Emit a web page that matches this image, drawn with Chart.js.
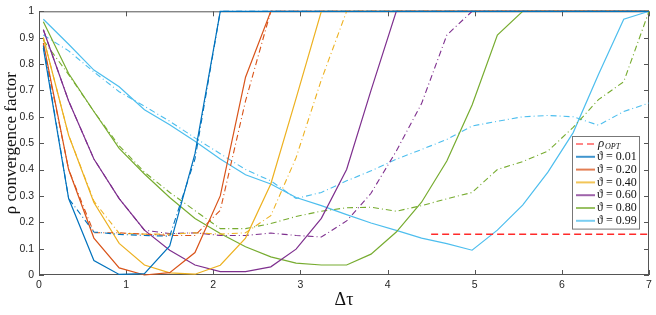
<!DOCTYPE html>
<html lang="en">
<head>
  <meta charset="UTF-8">
  <title>Convergence factor vs delta tau</title>
  <script src="https://cdn.jsdelivr.net/npm/chart.js"></script>
  <style>
    html, body { margin: 0; padding: 0; background: #fff; }
    #wrap { width: 656px; height: 315px; }
  </style>
</head>
<body>
  <div id="wrap"><canvas id="rhoChart" width="656" height="315"></canvas></div>

  <script>
    // sample points along delta tau
    const xs = [0.05, 0.34, 0.63, 0.92, 1.21, 1.50, 1.79, 2.08, 2.37, 2.66, 2.95, 3.24, 3.53,
                3.81, 4.10, 4.39, 4.68, 4.97, 5.26, 5.55, 5.84, 6.13, 6.42, 6.71, 7.00];

    const thetas = ['0.01', '0.20', '0.40', '0.60', '0.80', '0.99'];

    // solid curves
    const s001 = [0.86, 0.29, 0.055, 0.002, 0.005, 0.11, 0.46, 1, 1, 1, 1, 1, 1, 1, 1, 1, 1, 1, 1, 1, 1, 1, 1, 1, 1];
    const s020 = [0.88, 0.40, 0.14, 0.027, 0.0, 0.009, 0.085, 0.30, 0.75, 1, 1, 1, 1, 1, 1, 1, 1, 1, 1, 1, 1, 1, 1, 1, 1];
    const s040 = [0.90, 0.53, 0.275, 0.12, 0.038, 0.008, 0.003, 0.037, 0.14, 0.345, 0.67, 1, 1, 1, 1, 1, 1, 1, 1, 1, 1, 1, 1, 1, 1];
    const s060 = [0.93, 0.66, 0.44, 0.29, 0.17, 0.094, 0.038, 0.013, 0.013, 0.031, 0.098, 0.215, 0.40, 0.70, 1, 1, 1, 1, 1, 1, 1, 1, 1, 1, 1];
    const s080 = [0.96, 0.764, 0.62, 0.48, 0.383, 0.294, 0.214, 0.157, 0.107, 0.069, 0.045, 0.038, 0.038, 0.079, 0.163, 0.276, 0.432, 0.645, 0.91, 1, 1, 1, 1, 1, 1];
    const s099 = [0.97, 0.875, 0.777, 0.714, 0.627, 0.57, 0.507, 0.44, 0.38, 0.345, 0.294, 0.263, 0.229, 0.197, 0.169, 0.14, 0.119, 0.094, 0.17, 0.265, 0.39, 0.54, 0.76, 0.97, 1];

    // dash-dot curves
    const d001 = [0.87, 0.29, 0.163, 0.154, 0.15, 0.147, 0.44, 1, 1, 1, 1, 1, 1, 1, 1, 1, 1, 1, 1, 1, 1, 1, 1, 1, 1];
    const d020 = [0.87, 0.40, 0.16, 0.16, 0.155, 0.15, 0.15, 0.245, 0.66, 1, 1, 1, 1, 1, 1, 1, 1, 1, 1, 1, 1, 1, 1, 1, 1];
    const d040 = [0.90, 0.53, 0.28, 0.158, 0.155, 0.155, 0.16, 0.155, 0.16, 0.225, 0.445, 0.74, 1, 1, 1, 1, 1, 1, 1, 1, 1, 1, 1, 1, 1];
    const d060 = [0.93, 0.66, 0.44, 0.29, 0.17, 0.157, 0.16, 0.15, 0.15, 0.159, 0.15, 0.144, 0.205, 0.31, 0.47, 0.65, 0.91, 1, 1, 1, 1, 1, 1, 1, 1];
    const d080 = [0.89, 0.76, 0.62, 0.49, 0.39, 0.313, 0.244, 0.176, 0.176, 0.195, 0.222, 0.242, 0.255, 0.257, 0.242, 0.263, 0.289, 0.313, 0.40, 0.43, 0.47, 0.56, 0.665, 0.733, 1];
    const d099 = [0.91, 0.85, 0.77, 0.695, 0.64, 0.583, 0.52, 0.46, 0.40, 0.357, 0.29, 0.313, 0.357, 0.395, 0.439, 0.476, 0.514, 0.565, 0.583, 0.60, 0.605, 0.60, 0.568, 0.62, 0.652];

    // optimal rho reference line
    const rhoOptX = [4.5, 7];
    const rhoOpt = 0.155;

    const xTicks = ['0', '1', '2', '3', '4', '5', '6', '7'];
    const yTicks = ['0', '0.1', '0.2', '0.3', '0.4', '0.5', '0.6', '0.7', '0.8', '0.9', '1'];

    const solids = [s001, s020, s040, s060, s080, s099];
    const dashes = [d001, d020, d040, d060, d080, d099];
    const colors = ['#0072BD', '#D95319', '#EDB120', '#7E2F8E', '#77AC30', '#4DBEEE'];

    const toPts = (ys) => xs.map((x, k) => ({ x: x, y: ys[k] }));

    const datasets = [{
      label: 'rhoOPT',
      data: rhoOptX.map(x => ({ x: x, y: rhoOpt })),
      borderColor: '#FF2A2A',
      borderWidth: 1.5,
      borderDash: [7, 4],
      pointRadius: 0,
      clip: false
    }];
    thetas.forEach((t, i) => {
      datasets.push({
        label: '\u03D1 = ' + t,
        data: toPts(solids[i]),
        borderColor: colors[i],
        borderWidth: 1.2,
        pointRadius: 0,
        tension: 0,
        clip: false
      });
      datasets.push({
        label: '',
        data: toPts(dashes[i]),
        borderColor: colors[i],
        borderWidth: 1.1,
        borderDash: [6, 3, 1, 3],
        pointRadius: 0,
        tension: 0,
        clip: false
      });
    });

    const serif = '"Liberation Serif", "DejaVu Serif", serif';

    // box + inward ticks, drawn under the lines like matlab
    const boxPlugin = {
      id: 'box',
      beforeDatasetsDraw(chart) {
        const { ctx, chartArea: a, scales } = chart;
        ctx.save();
        ctx.strokeStyle = '#555';
        ctx.lineWidth = 1;
        ctx.strokeRect(a.left + 0.5, a.top + 0.5, a.right - a.left - 1, a.bottom - a.top - 1);
        ctx.beginPath();
        xTicks.forEach((_, i) => {
          const px = Math.round(scales.x.getPixelForValue(i)) + 0.5;
          ctx.moveTo(px, a.bottom); ctx.lineTo(px, a.bottom - 5);
          ctx.moveTo(px, a.top); ctx.lineTo(px, a.top + 5);
        });
        yTicks.forEach((_, i) => {
          const py = Math.round(scales.y.getPixelForValue(i / 10)) + 0.5;
          ctx.moveTo(a.left, py); ctx.lineTo(a.left + 5, py);
          ctx.moveTo(a.right, py); ctx.lineTo(a.right - 5, py);
        });
        ctx.stroke();
        ctx.restore();
      }
    };

    const legendPlugin = {
      id: 'boxLegend',
      afterDraw(chart) {
        const ctx = chart.ctx;
        const items = chart.data.datasets.filter(d => d.label);
        const x0 = 572, y0 = 136, w = 67, rowH = 12.8;
        const h = items.length * rowH + 3;
        ctx.save();
        ctx.fillStyle = '#fff';
        ctx.fillRect(x0, y0, w, h);
        ctx.strokeStyle = '#777';
        ctx.lineWidth = 1;
        ctx.strokeRect(x0 + 0.5, y0 + 0.5, w, h);
        items.forEach((d, i) => {
          const cy = y0 + 8 + i * rowH;
          ctx.save();
          ctx.globalAlpha = 0.75;
          ctx.strokeStyle = d.borderColor;
          ctx.lineWidth = d.label === 'rhoOPT' ? 1.5 : 2;
          ctx.setLineDash(d.label === 'rhoOPT' ? d.borderDash : []);
          ctx.beginPath();
          ctx.moveTo(x0 + 4, cy);
          ctx.lineTo(x0 + 23, cy);
          ctx.stroke();
          ctx.restore();
          ctx.fillStyle = '#111';
          ctx.textBaseline = 'middle';
          if (d.label === 'rhoOPT') {
            ctx.font = 'italic 13px ' + serif;
            ctx.fillText('\u03C1', x0 + 26, cy);
            ctx.font = 'italic 8px ' + serif;
            ctx.fillText('OPT', x0 + 33, cy + 3);
          } else {
            ctx.font = '12px ' + serif;
            ctx.fillText(d.label, x0 + 25, cy);
          }
        });
        ctx.restore();
      }
    };

    const tickFont = { family: '"Liberation Sans", Arial, sans-serif', size: 10.5 };

    new Chart(document.getElementById('rhoChart'), {
      type: 'line',
      data: { datasets: datasets },
      options: {
        responsive: false,
        animation: false,
        events: [],
        layout: { padding: { left: 0, right: 7, top: 9, bottom: 0 } },
        plugins: { legend: { display: false }, tooltip: { enabled: false } },
        scales: {
          x: {
            type: 'linear',
            min: 0, max: 7,
            grid: { display: false, drawTicks: false },
            border: { display: false },
            ticks: {
              stepSize: 1, padding: 4, color: '#262626', font: tickFont,
              callback: (v) => xTicks[v]
            },
            title: {
              display: true, text: '\u0394\u03C4', color: '#111',
              font: { family: serif, size: 18 },
              padding: { top: 0, bottom: 4 }
            },
            afterFit: (s) => { s.height = 40; }
          },
          y: {
            min: 0, max: 1,
            grid: { display: false, drawTicks: false },
            border: { display: false },
            ticks: {
              stepSize: 0.1, padding: 5, color: '#262626', font: tickFont,
              callback: (v) => yTicks[Math.round(v * 10)]
            },
            title: {
              display: true, text: '\u03C1 convergence factor', color: '#111',
              font: { family: serif, size: 17 },
              padding: { top: 1, bottom: 0 }
            },
            afterFit: (s) => { s.width = 39; }
          }
        }
      },
      plugins: [boxPlugin, legendPlugin]
    });
  </script>
</body>
</html>
